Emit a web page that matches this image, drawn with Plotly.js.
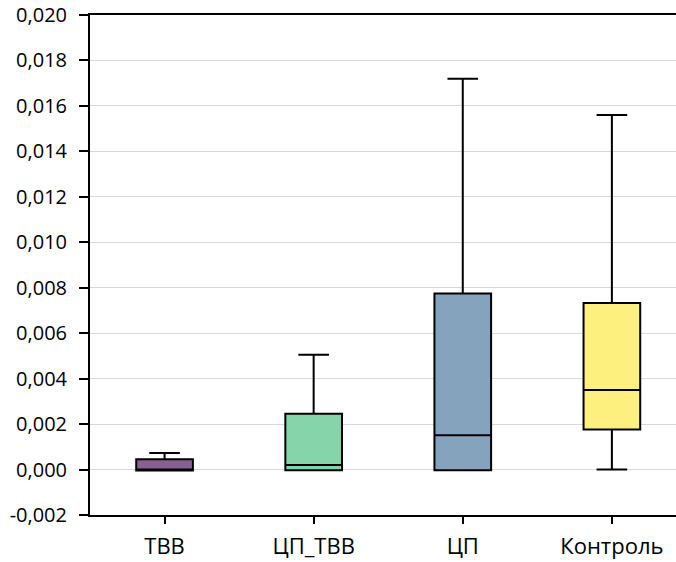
<!DOCTYPE html>
<html>
<head>
<meta charset="utf-8">
<script src="https://cdn.plot.ly/plotly-3.0.1.min.js"></script>
<style>html,body{margin:0;padding:0;background:#fff;}#chart{width:676px;height:562px;}</style>
</head>
<body>
<div id="chart"></div>
<script>
const categories = ["ТВВ", "ЦП_ТВВ", "ЦП", "Контроль"];
const lowerFence = [-0.00004, -0.00003, -0.00003, 0.0];
const q1Values = [-0.00004, -0.00003, -0.00003, 0.00176];
const medianValues = [0.0, 0.0002, 0.00151, 0.0035];
const q3Values = [0.00045, 0.00245, 0.00775, 0.00733];
const upperFence = [0.00073, 0.00505, 0.0172, 0.0156];
const fillColors = ["#8a5f94", "#86d4aa", "#86a3bd", "#fef07f"];
const yTickVals = [-0.002, 0, 0.002, 0.004, 0.006, 0.008, 0.010, 0.012, 0.014, 0.016, 0.018, 0.020];
const yTickText = ["-0,002", "0,000", "0,002", "0,004", "0,006", "0,008", "0,010", "0,012", "0,014", "0,016", "0,018", "0,020"];

const traces = categories.map((c, i) => ({
  type: "box",
  name: c,
  x: [c],
  q1: [q1Values[i]],
  median: [medianValues[i]],
  q3: [q3Values[i]],
  lowerfence: [lowerFence[i]],
  upperfence: [upperFence[i]],
  fillcolor: fillColors[i],
  line: {color: "#000", width: 2},
  width: 0.38,
  whiskerwidth: 0.54,
  boxpoints: false,
  showlegend: false,
  hoverinfo: "skip"
}));

const layout = {
  width: 676, height: 562,
  margin: {l: 90, r: 0, t: 15, b: 47},
  paper_bgcolor: "#fff", plot_bgcolor: "#fff",
  font: {family: "Open Sans, sans-serif", size: 18, color: "#000"},
  boxmode: "overlay",
  showlegend: false,
  xaxis: {
    type: "category",
    categoryorder: "array", categoryarray: categories,
    range: [-0.5, 3.43],
    showline: true, linecolor: "#000", linewidth: 2, mirror: true,
    ticks: "outside", ticklen: 7, tickwidth: 2, tickcolor: "#000",
    ticklabelstandoff: 4,
    showgrid: false, zeroline: false,
    tickfont: {size: 22}
  },
  yaxis: {
    range: [-0.002, 0.020],
    tickvals: yTickVals, ticktext: yTickText,
    showline: true, linecolor: "#000", linewidth: 2,
    ticks: "outside", ticklen: 9, tickwidth: 2, tickcolor: "#000",
    ticklabelstandoff: 8,
    showgrid: true, gridcolor: "#d9d9d9", gridwidth: 1,
    zeroline: false,
    tickfont: {size: 20}
  }
};

Plotly.newPlot("chart", traces, layout, {staticPlot: true, displayModeBar: false});
</script>
</body>
</html>
